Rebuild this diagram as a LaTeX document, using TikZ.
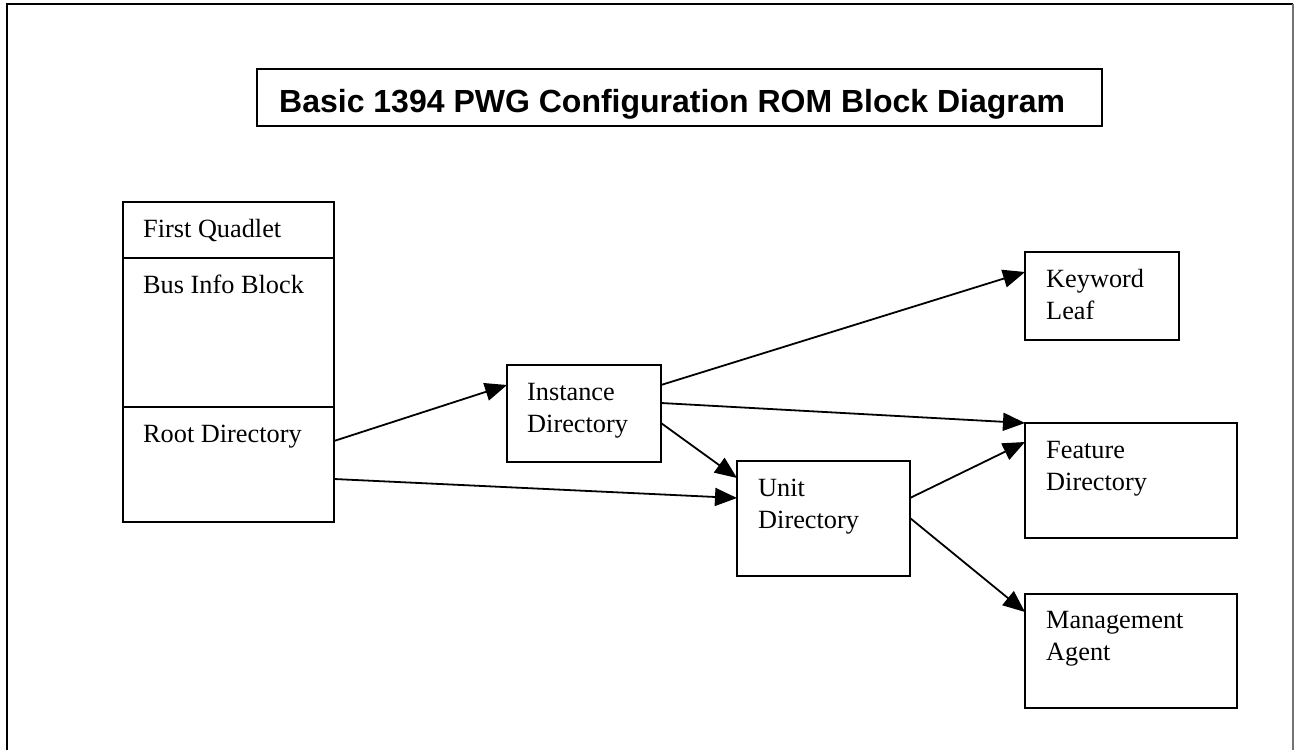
\documentclass[tikz,border=0pt]{standalone}
\usepackage{fontspec}
\setmainfont{Liberation Serif}
\newfontfamily\titlefont{Liberation Sans}
\usetikzlibrary{positioning,arrows.meta}

\begin{document}
\begin{tikzpicture}[x=1pt,y=-1pt,
    box/.style={draw,line width=1.8pt,inner sep=0pt,outer sep=0pt,anchor=north west},
    txt/.style={anchor=base west,inner sep=0pt,align=left,font=\fontsize{26.3}{32}\selectfont},
    conn/.style={line width=1.8pt,-{Triangle[length=22pt,width=18pt]}}]
  \useasboundingbox (0,0) rectangle (1294,750);

  % --- Outer frame ---
  \draw[line width=2.2pt] (7,750) -- (7,4) -- (1293,4);
  \draw[line width=1.5pt,black!55] (1293,4) -- (1293,750);

  % --- Title ---
  \node[box,minimum width=845pt,minimum height=57pt] (title) at (257,69) {};
  \node[anchor=base west,inner sep=0pt,font=\titlefont\bfseries\fontsize{32}{36}\selectfont]
    (titletxt) at ([xshift=22pt,yshift=14pt]title.south west) {Basic 1394 PWG Configuration ROM Block Diagram};

  % --- Configuration ROM stack ---
  \node[box,minimum width=211pt,minimum height=56pt] (quad) at (123,202) {};
  \node[box,minimum width=211pt,minimum height=149pt] (bus) at (123,258) {};
  \node[box,minimum width=211pt,minimum height=115pt] (root) at (123,407) {};
  \node[txt] (quadtxt) at ([xshift=20pt,yshift=-35pt]quad.north west) {First Quadlet};
  \node[txt] (bustxt) at ([xshift=20pt,yshift=-35pt]bus.north west) {Bus Info Block};
  \node[txt] (roottxt) at ([xshift=20pt,yshift=-35pt]root.north west) {Root Directory};

  % --- Directories and leaves (base is on the second line) ---
  \node[box,minimum width=154pt,minimum height=97pt] (inst) at (507,365) {};
  \node[box,minimum width=173pt,minimum height=115pt] (unit) at (737,461) {};
  \node[box,minimum width=154pt,minimum height=88pt] (keyw) at (1025,252) {};
  \node[box,minimum width=212pt,minimum height=115pt] (feat) at (1025,423) {};
  \node[box,minimum width=212pt,minimum height=114pt] (mgmt) at (1025,594) {};
  \node[txt] (insttxt) at ([xshift=20pt,yshift=-67pt]inst.north west) {Instance\\Directory};
  \node[txt] (unittxt) at ([xshift=21pt,yshift=-67pt]unit.north west) {Unit\\Directory};
  \node[txt] (keywtxt) at ([xshift=21pt,yshift=-67pt]keyw.north west) {Keyword\\Leaf};
  \node[txt] (feattxt) at ([xshift=21pt,yshift=-67pt]feat.north west) {Feature\\Directory};
  \node[txt] (mgmttxt) at ([xshift=21pt,yshift=-66pt]mgmt.north west) {Management\\Agent};

  % --- Connectors ---
  \draw[conn] ([yshift=-34pt]root.north east) -- ([yshift=-20pt]inst.north west);
  \draw[conn] ([yshift=-72pt]root.north east) -- ([yshift=-37pt]unit.north west);
  \draw[conn] ([yshift=-20pt]inst.north east) -- ([yshift=-20pt]keyw.north west);
  \draw[conn] ([yshift=-38pt]inst.north east) -- (feat.north west);
  \draw[conn] ([yshift=-58pt]inst.north east) -- ([yshift=-17pt]unit.north west);
  \draw[conn] ([yshift=-37pt]unit.north east) -- ([yshift=-19pt]feat.north west);
  \draw[conn] ([yshift=-57pt]unit.north east) -- ([yshift=-18pt]mgmt.north west);
\end{tikzpicture}
\end{document}
